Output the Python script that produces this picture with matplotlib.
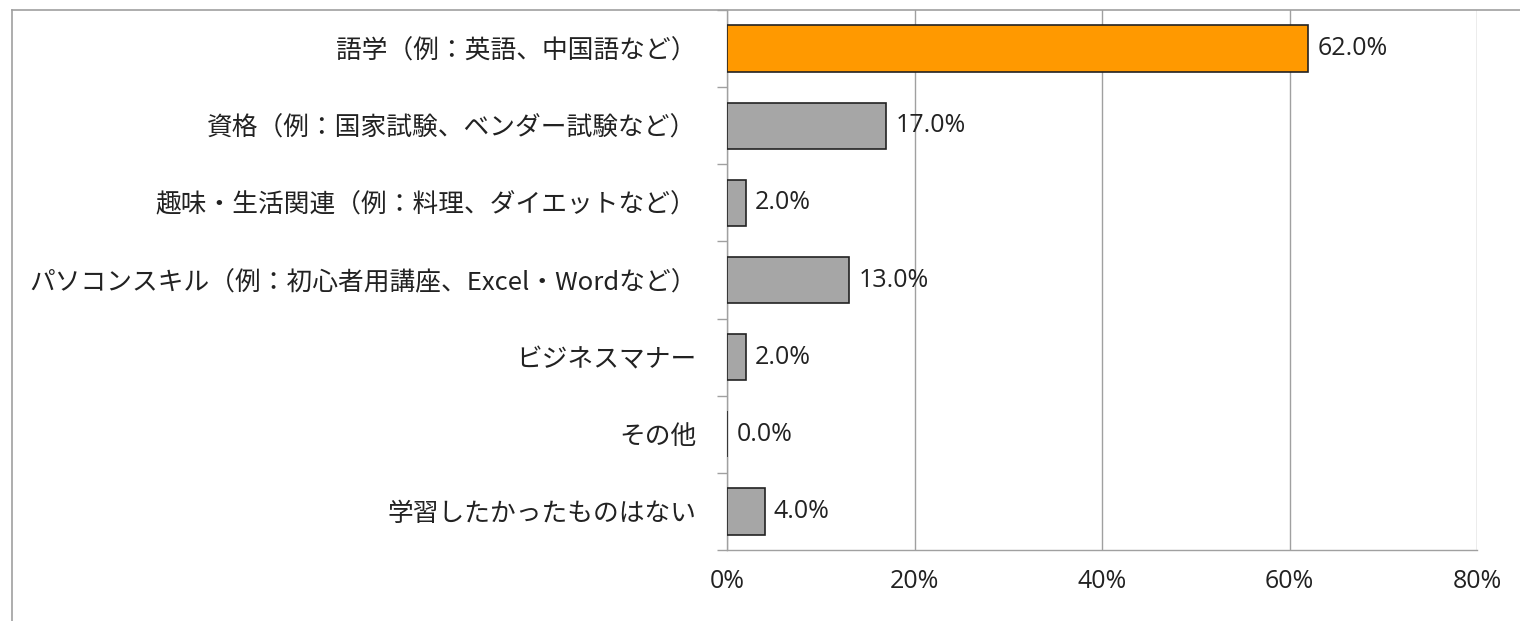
import matplotlib.pyplot as plt
import numpy as np
from matplotlib.lines import Line2D

plt.rcParams['font.family'] = ['Noto Sans CJK JP', 'DejaVu Sans']

categories = ['語学（例：英語、中国語など）',
              '資格（例：国家試験、ベンダー試験など）',
              '趣味・生活関連（例：料理、ダイエットなど）',
              'パソコンスキル（例：初心者用講座、Excel・Wordなど）',
              'ビジネスマナー',
              'その他',
              '学習したかったものはない']
values = [62.0, 17.0, 2.0, 13.0, 2.0, 0.0, 4.0]
xticks = [0, 20, 40, 60, 80]

colors = ['#ff9900'] + ['#a6a6a6'] * (len(values) - 1)

fig = plt.figure(figsize=(15.2, 6.21), dpi=100)
ax = fig.add_axes([727 / 1520, 1 - 550 / 621, 750 / 1520, 540 / 621])

y = np.arange(len(values))
ax.barh(y, values, height=0.6, color=colors, edgecolor='#222222', linewidth=1.2, zorder=3)
for yi, v in zip(y, values):
    ax.text(v + 1.0, yi, '%.1f%%' % v, va='center', ha='left', fontsize=18,
            family=['Open Sans', 'DejaVu Sans'], color='#222222', zorder=4)

ax.set_xlim(0, 80)
ax.set_ylim(len(values) - 0.5, -0.5)
ax.set_xticks(xticks)
ax.set_xticklabels(['%d%%' % t for t in xticks], fontsize=18,
                   family=['Open Sans', 'DejaVu Sans'], color='#222222')
ax.tick_params(axis='x', length=0, pad=14)
ax.grid(axis='x', color='#a0a0a0', linewidth=1.0, zorder=0)

ax.set_yticks(y)
ax.set_yticklabels(categories, fontsize=18.5, color='#222222')
ax.tick_params(axis='y', length=0, pad=22)
ax.set_yticks(np.arange(len(values) + 1) - 0.5, minor=True)
ax.tick_params(axis='y', which='minor', length=7, color='#a0a0a0', width=1)

for s in ['top', 'right']:
    ax.spines[s].set_visible(False)
for s in ['left', 'bottom']:
    ax.spines[s].set_color('#a0a0a0')
    ax.spines[s].set_linewidth(1.0)

# outer chart frame
fig.add_artist(Line2D([12 / 1520, 1], [1 - 10 / 621] * 2, color='#a0a0a0', lw=1.2))
fig.add_artist(Line2D([12 / 1520] * 2, [0, 1 - 10 / 621], color='#a0a0a0', lw=1.2))

fig.savefig('out.png', dpi=100)
